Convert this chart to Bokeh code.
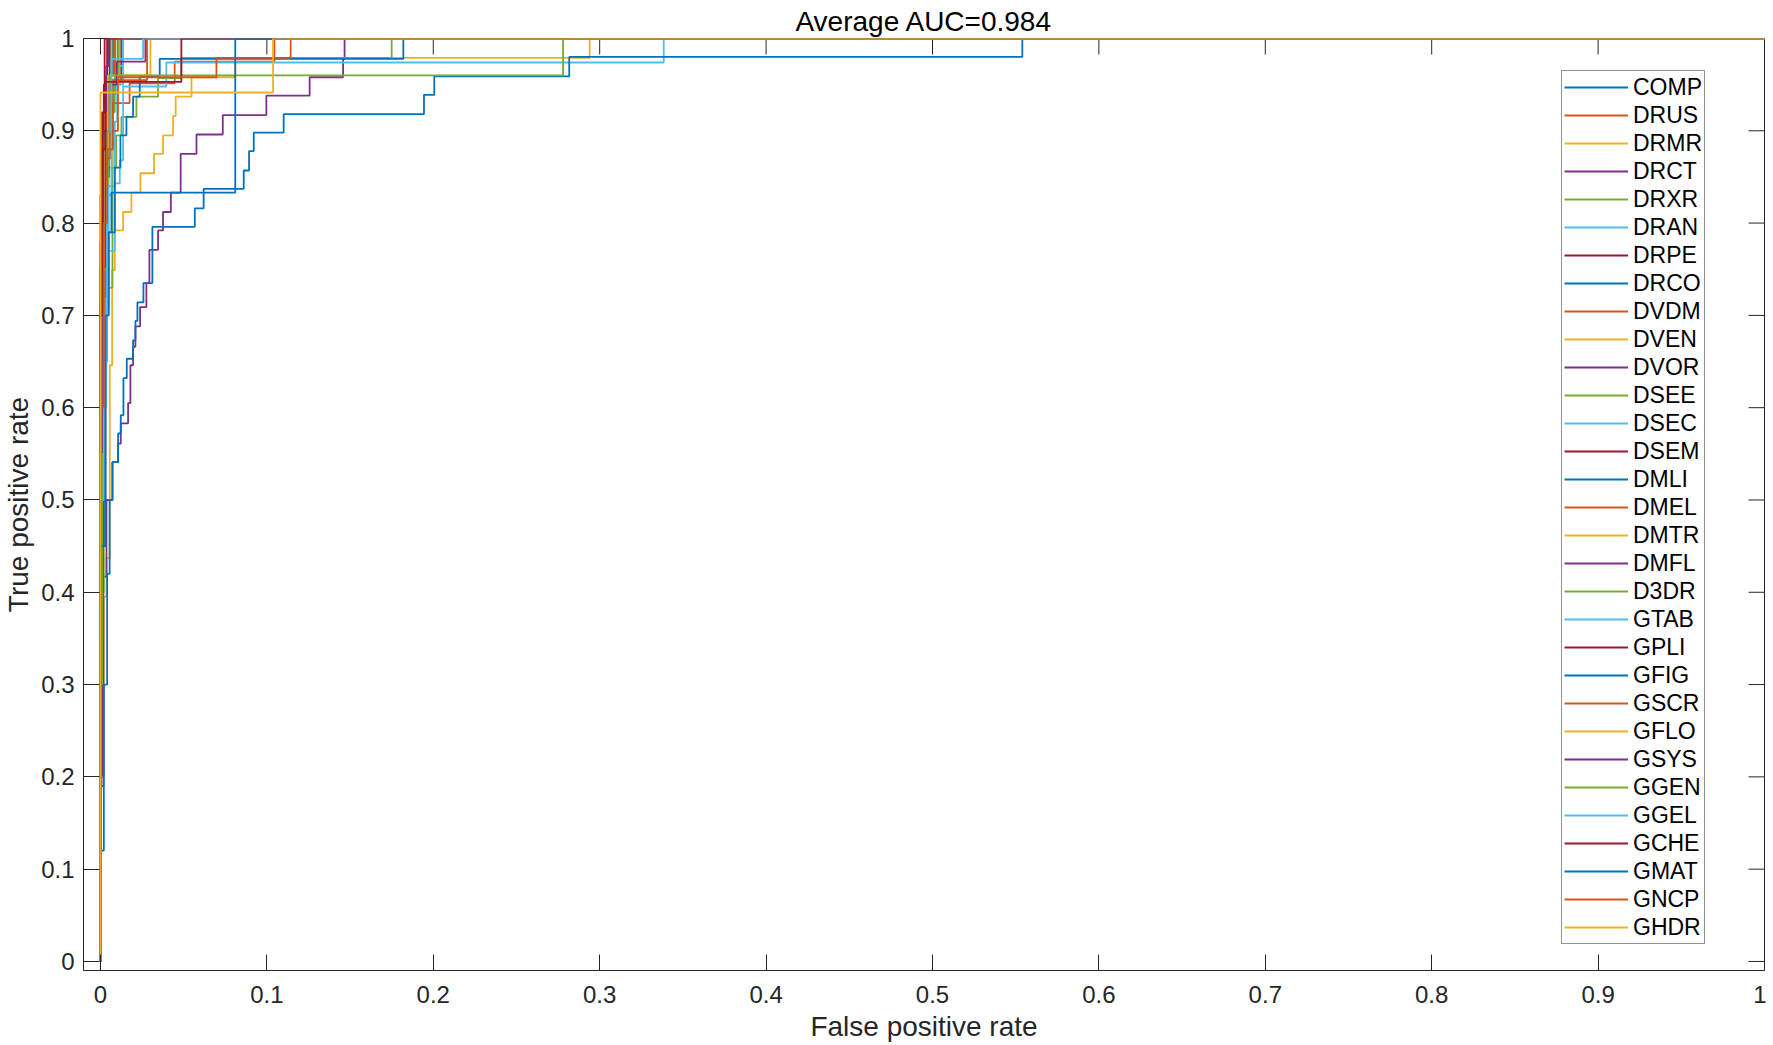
import math
from bokeh.plotting import figure
from bokeh.models import Range1d, Legend, LegendItem, FixedTicker
from bokeh.embed import file_html
from bokeh.resources import INLINE

# ---------------- data ----------------
names = ["COMP", "DRUS", "DRMR", "DRCT", "DRXR", "DRAN", "DRPE", "DRCO", "DVDM", "DVEN",
         "DVOR", "DSEE", "DSEC", "DSEM", "DMLI", "DMEL", "DMTR", "DMFL", "D3DR", "GTAB",
         "GPLI", "GFIG", "GSCR", "GFLO", "GSYS", "GGEN", "GGEL", "GCHE", "GMAT", "GNCP", "GHDR"]

x_ticks = [0, 0.1, 0.2, 0.3, 0.4, 0.5, 0.6, 0.7, 0.8, 0.9, 1]
x_tick_labels = ["0", "0.1", "0.2", "0.3", "0.4", "0.5", "0.6", "0.7", "0.8", "0.9", "1"]
y_ticks = [0, 0.1, 0.2, 0.3, 0.4, 0.5, 0.6, 0.7, 0.8, 0.9, 1]
y_tick_labels = ["0", "0.1", "0.2", "0.3", "0.4", "0.5", "0.6", "0.7", "0.8", "0.9", "1"]

fpr_COMP = [0, 0, 0.0012, 0.0012, 0.0026, 0.0026, 0.0046, 0.0046, 0.0075, 0.0075, 1]
tpr_COMP = [0, 0.6, 0.6, 0.8, 0.8, 0.9, 0.9, 0.96, 0.96, 1, 1]

fpr_DRUS = [0, 0, 0.001, 0.001, 0.003, 0.003, 0.006, 0.006, 0.0105, 0.0105, 1]
tpr_DRUS = [0, 0.42, 0.42, 0.83, 0.83, 0.93, 0.93, 0.96, 0.96, 1, 1]

fpr_DRMR = [0, 0, 0.0025, 0.0025, 0.005, 0.005, 0.0075, 0.0075, 0.012, 0.012, 1]
tpr_DRMR = [0, 0.55, 0.55, 0.71, 0.71, 0.86, 0.86, 0.95, 0.95, 1, 1]

fpr_DRCT = [0, 0, 0.0015, 0.0015, 0.003, 0.003, 0.005, 0.005, 0.0126, 0.0126, 1]
tpr_DRCT = [0, 0.2, 0.2, 0.5, 0.5, 0.85, 0.85, 0.955, 0.955, 1, 1]

fpr_DRXR = [0, 0, 0.0022, 0.0022, 0.0045, 0.0045, 0.0072, 0.0072, 0.009, 0.009, 1]
tpr_DRXR = [0, 0.5, 0.5, 0.76, 0.76, 0.88, 0.88, 0.94, 0.94, 1, 1]

fpr_DRAN = [0, 0, 0.002, 0.002, 0.0046, 0.0046, 0.0086, 0.0086, 0.01, 0.01, 0.0136, 0.0136, 1]
tpr_DRAN = [0, 0.68, 0.68, 0.76, 0.76, 0.84, 0.84, 0.91, 0.91, 0.97, 0.97, 1, 1]

fpr_DRPE = [0, 0, 0.002, 0.002, 0.004, 0.004, 1]
tpr_DRPE = [0, 0.83, 0.83, 0.95, 0.95, 1, 1]

fpr_DRCO = [0, 0, 0.0015, 0.0015, 0.0035, 0.0035, 0.006, 0.006, 1]
tpr_DRCO = [0, 0.7, 0.7, 0.86, 0.86, 0.95, 0.95, 1, 1]

fpr_DVDM = [0, 0, 0.0015, 0.0015, 0.003, 0.003, 0.006, 0.006, 0.0105, 0.0105, 0.0175, 0.0175,
            0.0446, 0.0446, 0.1045, 0.1045, 1]
tpr_DVDM = [0, 0.55, 0.55, 0.78, 0.78, 0.87, 0.87, 0.9, 0.9, 0.93, 0.93, 0.9515,
            0.9515, 0.975, 0.975, 1, 1]

fpr_DVEN = [0, 0, 0.002, 0.002, 0.0036, 0.0036, 0.0056, 0.0056, 0.007, 0.007, 0.0086, 0.0086,
            0.0136, 0.0136, 0.0186, 0.0186, 0.024, 0.024, 0.0322, 0.0322, 0.0376, 0.0376,
            0.0436, 0.0436, 0.0452, 0.0452, 0.0547, 0.0547, 0.081, 0.081, 0.294, 0.294, 1]
tpr_DVEN = [0, 0.2, 0.2, 0.395, 0.395, 0.437, 0.437, 0.646, 0.646, 0.749, 0.749, 0.792,
            0.792, 0.812, 0.812, 0.833, 0.833, 0.854, 0.854, 0.875, 0.875, 0.895,
            0.895, 0.916, 0.916, 0.937, 0.937, 0.958, 0.958, 0.979, 0.979, 1, 1]

fpr_DVOR = [0, 0, 0.0018, 0.0018, 0.0036, 0.0036, 0.0072, 0.0072, 0.0106, 0.0106, 0.0122, 0.0122,
            0.0166, 0.0166, 0.018, 0.018, 0.0196, 0.0196, 0.021, 0.021, 0.0238, 0.0238,
            0.0276, 0.0276, 0.0294, 0.0294, 0.0346, 0.0346, 0.0376, 0.0376, 0.0423, 0.0423,
            0.0482, 0.0482, 0.0577, 0.0577, 0.0735, 0.0735, 0.0997, 0.0997, 0.1257, 0.1257,
            0.1458, 0.1458, 0.1467, 0.1467, 1]
tpr_DVOR = [0, 0.19, 0.19, 0.417, 0.417, 0.5, 0.5, 0.541, 0.541, 0.561, 0.561, 0.583,
            0.583, 0.605, 0.605, 0.646, 0.646, 0.666, 0.666, 0.688, 0.688, 0.709,
            0.709, 0.735, 0.735, 0.771, 0.771, 0.792, 0.792, 0.812, 0.812, 0.833,
            0.833, 0.875, 0.875, 0.896, 0.896, 0.917, 0.917, 0.938, 0.938, 0.958,
            0.958, 0.978, 0.978, 1, 1]

fpr_DSEE = [0, 0, 0.002, 0.002, 0.004, 0.004, 0.0072, 0.0072, 0.0095, 0.0095, 0.0126, 0.0126,
            0.0216, 0.0216, 0.0346, 0.0346, 0.0486, 0.0486, 0.175, 0.175, 1]
tpr_DSEE = [0, 0.4, 0.4, 0.65, 0.65, 0.73, 0.73, 0.86, 0.86, 0.895, 0.895, 0.915,
            0.915, 0.937, 0.937, 0.957, 0.957, 0.979, 0.979, 1, 1]

fpr_DSEC = [0, 0, 0.0015, 0.0015, 0.0035, 0.0035, 0.0086, 0.0086, 0.0116, 0.0116, 0.0136, 0.0136,
            0.0396, 0.0396, 0.3385, 0.3385, 1]
tpr_DSEC = [0, 0.35, 0.35, 0.6, 0.6, 0.77, 0.77, 0.843, 0.843, 0.868, 0.868, 0.948,
            0.948, 0.974, 0.974, 1, 1]

fpr_DSEM = [0, 0, 0.0012, 0.0012, 0.0035, 0.0035, 0.0055, 0.0055, 1]
tpr_DSEM = [0, 0.6, 0.6, 0.88, 0.88, 0.96, 0.96, 1, 1]

fpr_DMLI = [0, 0, 0.002, 0.002, 0.004, 0.004, 0.0055, 0.0055, 0.0072, 0.0072, 0.0106, 0.0106,
            0.0122, 0.0122, 0.0138, 0.0138, 0.0158, 0.0158, 0.0196, 0.0196, 0.021, 0.021,
            0.0222, 0.0222, 0.0258, 0.0258, 0.0312, 0.0312, 0.0567, 0.0567, 0.062, 0.062,
            0.0861, 0.0861, 0.0893, 0.0893, 0.0921, 0.0921, 0.1101, 0.1101, 0.1944, 0.1944,
            0.2006, 0.2006, 0.2817, 0.2817, 0.554, 0.554, 1]
tpr_DMLI = [0, 0.12, 0.12, 0.3, 0.3, 0.42, 0.42, 0.5, 0.5, 0.541, 0.541, 0.572,
            0.572, 0.592, 0.592, 0.632, 0.632, 0.653, 0.653, 0.673, 0.673, 0.694,
            0.694, 0.714, 0.714, 0.735, 0.735, 0.796, 0.796, 0.816, 0.816, 0.837,
            0.837, 0.857, 0.857, 0.878, 0.878, 0.898, 0.898, 0.918, 0.918, 0.939,
            0.939, 0.959, 0.959, 0.98, 0.98, 1, 1]

fpr_DMEL = [0, 0, 0.0018, 0.0018, 0.004, 0.004, 0.0086, 0.0086, 1]
tpr_DMEL = [0, 0.72, 0.72, 0.89, 0.89, 0.955, 0.955, 1, 1]

fpr_DMTR = [0, 0, 0.0012, 0.0012, 0.003, 0.003, 0.0066, 0.0066, 1]
tpr_DMTR = [0, 0.65, 0.65, 0.85, 0.85, 0.94, 0.94, 1, 1]

fpr_DMFL = [0, 0, 0.0015, 0.0015, 0.0035, 0.0035, 0.005, 0.005, 1]
tpr_DMFL = [0, 0.78, 0.78, 0.9, 0.9, 0.97, 0.97, 1, 1]

fpr_D3DR = [0, 0, 0.0018, 0.0018, 0.004, 0.004, 0.0086, 0.0086, 0.011, 0.011, 1]
tpr_D3DR = [0, 0.55, 0.55, 0.8, 0.8, 0.92, 0.92, 0.96, 0.96, 1, 1]

fpr_GTAB = [0, 0, 0.0015, 0.0015, 0.0036, 0.0036, 0.0066, 0.0066, 0.0136, 0.0136, 1]
tpr_GTAB = [0, 0.7, 0.7, 0.82, 0.82, 0.9, 0.9, 0.95, 0.95, 1, 1]

fpr_GPLI = [0, 0, 0.001, 0.001, 0.0025, 0.0025, 1]
tpr_GPLI = [0, 0.75, 0.75, 0.92, 0.92, 1, 1]

fpr_GFIG = [0, 0, 0.002, 0.002, 0.0046, 0.0046, 0.0086, 0.0086, 0.012, 0.012, 0.0156, 0.0156,
            0.0196, 0.0196, 0.0236, 0.0236, 0.0356, 0.0356, 0.182, 0.182, 1]
tpr_GFIG = [0, 0.45, 0.45, 0.7, 0.7, 0.79, 0.79, 0.86, 0.86, 0.895, 0.895, 0.915,
            0.915, 0.937, 0.937, 0.9586, 0.9586, 0.978, 0.978, 1, 1]

fpr_GSCR = [0, 0, 0.0012, 0.0012, 0.0035, 0.0035, 0.0075, 0.0075, 0.028, 0.028, 1]
tpr_GSCR = [0, 0.52, 0.52, 0.85, 0.85, 0.92, 0.92, 0.955, 0.955, 1, 1]

fpr_GFLO = [0, 0, 0.001, 0.001, 0.0025, 0.0025, 0.0045, 0.0045, 0.03, 0.03, 1]
tpr_GFLO = [0, 0.4, 0.4, 0.7, 0.7, 0.88, 0.88, 0.96, 0.96, 1, 1]

fpr_GSYS = [0, 0, 0.0015, 0.0015, 0.003, 0.003, 0.0055, 0.0055, 0.0098, 0.0098, 0.027, 0.027, 1]
tpr_GSYS = [0, 0.35, 0.35, 0.72, 0.72, 0.9, 0.9, 0.95, 0.95, 0.975, 0.975, 1, 1]

fpr_GGEN = [0, 0, 0.001, 0.001, 0.0025, 0.0025, 0.004, 0.004, 0.0055, 0.0055, 0.278, 0.278, 1]
tpr_GGEN = [0, 0.3, 0.3, 0.55, 0.55, 0.75, 0.75, 0.9, 0.9, 0.96, 0.96, 1, 1]

fpr_GGEL = [0, 0, 0.002, 0.002, 0.004, 0.004, 0.0066, 0.0066, 0.0256, 0.0256, 1]
tpr_GGEL = [0, 0.5, 0.5, 0.7, 0.7, 0.83, 0.83, 0.978, 0.978, 1, 1]

fpr_GCHE = [0, 0, 0.0015, 0.0015, 0.003, 0.003, 0.0486, 0.0486, 1]
tpr_GCHE = [0, 0.7, 0.7, 0.88, 0.88, 0.953, 0.953, 1, 1]

fpr_GMAT = [0, 0, 0.003, 0.003, 0.005, 0.005, 0.0066, 0.0066, 0.081, 0.081, 1]
tpr_GMAT = [0, 0.45, 0.45, 0.7, 0.7, 0.79, 0.79, 0.833, 0.833, 1, 1]

fpr_GNCP = [0, 0, 0.002, 0.002, 0.004, 0.004, 0.0075, 0.0075, 0.0105, 0.0105, 0.0697, 0.0697,
            0.1143, 0.1143, 1]
tpr_GNCP = [0, 0.6, 0.6, 0.8, 0.8, 0.88, 0.88, 0.93, 0.93, 0.958, 0.958, 0.979,
            0.979, 1, 1]

fpr_GHDR = [0, 0, 0.1037, 0.1037, 1]
tpr_GHDR = [0, 0.9415, 0.9415, 1, 1]

series_fpr = [fpr_COMP, fpr_DRUS, fpr_DRMR, fpr_DRCT, fpr_DRXR, fpr_DRAN, fpr_DRPE, fpr_DRCO,
              fpr_DVDM, fpr_DVEN, fpr_DVOR, fpr_DSEE, fpr_DSEC, fpr_DSEM, fpr_DMLI, fpr_DMEL,
              fpr_DMTR, fpr_DMFL, fpr_D3DR, fpr_GTAB, fpr_GPLI, fpr_GFIG, fpr_GSCR, fpr_GFLO,
              fpr_GSYS, fpr_GGEN, fpr_GGEL, fpr_GCHE, fpr_GMAT, fpr_GNCP, fpr_GHDR]
series_tpr = [tpr_COMP, tpr_DRUS, tpr_DRMR, tpr_DRCT, tpr_DRXR, tpr_DRAN, tpr_DRPE, tpr_DRCO,
              tpr_DVDM, tpr_DVEN, tpr_DVOR, tpr_DSEE, tpr_DSEC, tpr_DSEM, tpr_DMLI, tpr_DMEL,
              tpr_DMTR, tpr_DMFL, tpr_D3DR, tpr_GTAB, tpr_GPLI, tpr_GFIG, tpr_GSCR, tpr_GFLO,
              tpr_GSYS, tpr_GGEN, tpr_GGEL, tpr_GCHE, tpr_GMAT, tpr_GNCP, tpr_GHDR]

title_text = "Average AUC=0.984"

# ---------------- styling ----------------
palette = ["#0072BD", "#D95319", "#EDB120", "#7E2F8E", "#77AC30", "#4DBEEE", "#A2142F"]
FONT = "Liberation Sans"
AX = "#262626"
TICK_LEN = 16

p = figure(width=1766, height=1045,
           x_range=Range1d(-0.0102, 1), y_range=Range1d(-0.0098, 1),
           output_backend="svg", toolbar_location=None,
           min_border_left=82, min_border_right=2, min_border_top=38, min_border_bottom=75)
p.background_fill_color = "white"
p.border_fill_color = "white"
p.grid.visible = False
p.outline_line_color = AX
p.outline_line_width = 1

p.title.text = title_text
p.title.align = "center"
p.title.text_font = FONT
p.title.text_font_size = "28px"
p.title.text_font_style = "normal"
p.title.text_color = "black"
p.title.standoff = 3


def style_axis(ax, ticks, labels):
    ax.ticker = FixedTicker(ticks=ticks)
    ax.major_label_overrides = {t: l for t, l in zip(ticks, labels)}
    ax.minor_tick_line_color = None
    ax.major_tick_in = TICK_LEN
    ax.major_tick_out = 0
    ax.major_tick_line_color = AX
    ax.axis_line_color = AX
    ax.major_label_text_font = FONT
    ax.major_label_text_color = AX
    ax.axis_label_text_font = FONT
    ax.axis_label_text_color = AX
    ax.axis_label_text_font_style = "normal"


xa = p.xaxis[0]
style_axis(xa, x_ticks, x_tick_labels)
xa.axis_label = "False positive rate"
xa.major_label_text_font_size = "24px"
xa.axis_label_text_font_size = "28px"
xa.major_label_standoff = 15
xa.axis_label_standoff = 5

ya = p.yaxis[0]
style_axis(ya, y_ticks, y_tick_labels)
ya.axis_label = "True positive rate"
ya.major_label_text_font_size = "24px"
ya.axis_label_text_font_size = "28px"
ya.major_label_standoff = 9
ya.axis_label_standoff = 4

# inward ticks on the top and right edges of the box (MATLAB "box on")
p.ray(x=x_ticks, y=[y_ticks[-1]] * len(x_ticks), length=TICK_LEN, length_units="screen",
      angle=-math.pi / 2, line_color=AX, line_width=1)
p.ray(x=[x_ticks[-1]] * len(y_ticks), y=y_ticks, length=TICK_LEN, length_units="screen",
      angle=math.pi, line_color=AX, line_width=1)

items = []
for i, (nm, fx, ty) in enumerate(zip(names, series_fpr, series_tpr)):
    r = p.line(fx, ty, line_color=palette[i % 7], line_width=1.8)
    items.append(LegendItem(label=nm, renderers=[r]))

legend = Legend(items=items, location=(1478, 26), orientation="vertical")
legend.label_text_font = FONT
legend.label_text_font_size = "23px"
legend.label_text_color = "black"
legend.glyph_width = 64
legend.glyph_height = 28
legend.label_height = 28
legend.spacing = 0
legend.padding = 2
legend.margin = 0
legend.label_standoff = 5
legend.border_line_color = AX
legend.border_line_width = 1
legend.background_fill_alpha = 1
p.add_layout(legend, "center")

open("out.html", "w").write(file_html(p, INLINE))
